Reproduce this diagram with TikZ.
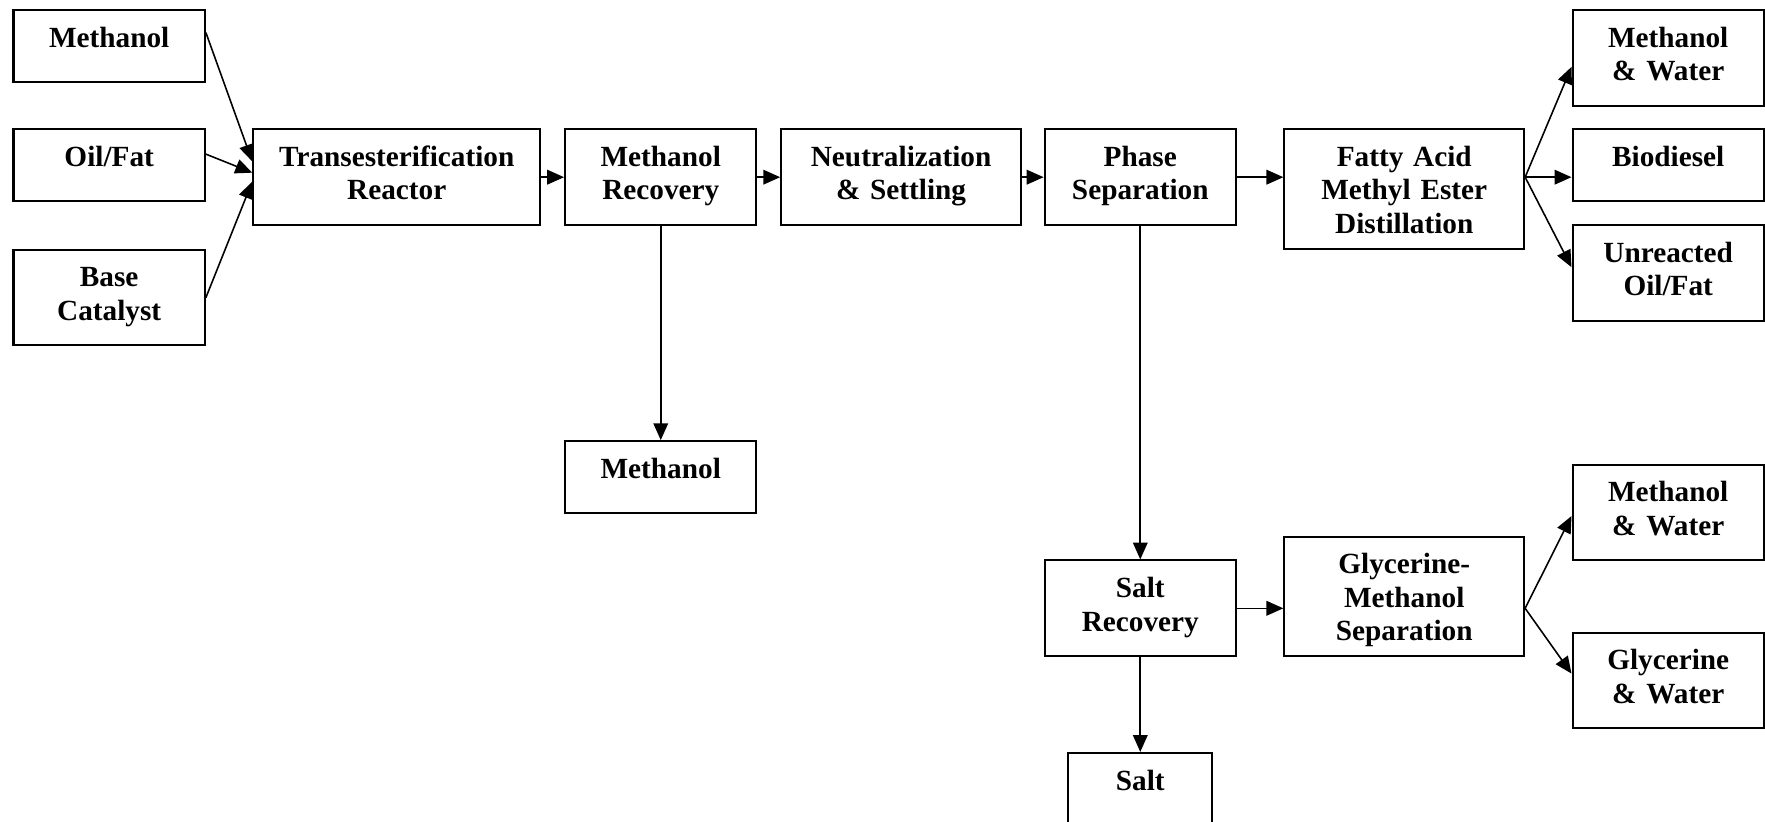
\documentclass[tikz,border=0pt]{standalone}
\usepackage{fontspec}
\setmainfont{Liberation Serif}
\usepackage{tikz}
\usetikzlibrary{arrows.meta}

\begin{document}
\begin{tikzpicture}[x=0.5pt, y=-0.5pt,
	box/.style={draw, line width=0.9pt, anchor=north, align=center, inner sep=0pt, text height=16.5pt, font=\fontsize{13}{14.85}\selectfont\bfseries},
	slim/.style={box, text width=85pt},
	broad/.style={box, text width=106.5pt},
	oneline/.style={text depth=15.5pt},
	twoline/.style={text depth=26pt},
	threeline/.style={text depth=36.5pt},
	flow/.style={line width=0.7pt, -{Triangle[length=7.5pt, width=6.5pt]}}]
	\useasboundingbox (0,0) rectangle (1568,730);
	\node[slim, oneline] (meth) at (97,8) {Methanol};
	\node[slim, oneline] (oil) at (97,114) {Oil/Fat};
	\node[slim, twoline] (cat) at (97,221) {Base\\Catalyst};
	\node[box, twoline, text width=127.5pt] (reactor) at (352.5,114) {Transesterification\\Reactor};
	\node[slim, twoline] (recovery) at (587,114) {Methanol\\Recovery};
	\node[broad, twoline] (neutral) at (800.5,114) {Neutralization\\\& Settling};
	\node[slim, twoline] (phase) at (1013,114) {Phase\\Separation};
	\node[broad, threeline] (fame) at (1247.5,114) {Fatty Acid\\Methyl Ester\\Distillation};
	\node[slim, twoline] (outmw) at (1482,8) {Methanol\\\& Water};
	\node[slim, oneline] (biodiesel) at (1482,114) {Biodiesel};
	\node[slim, twoline] (unreacted) at (1482,199) {Unreacted\\Oil/Fat};
	\node[slim, oneline] (methout) at (587,391) {Methanol};
	\node[slim, twoline] (saltrec) at (1013,497) {Salt\\Recovery};
	\node[broad, threeline] (glysep) at (1247.5,476) {Glycerine-\\Methanol\\Separation};
	\node[slim, twoline] (outmw2) at (1482,412) {Methanol\\\& Water};
	\node[slim, twoline] (outgw) at (1482,561) {Glycerine\\\& Water};
	\node[box, oneline, text width=64pt] (salt) at (1013,668) {Salt};
	\draw[flow] ([yshift=6pt]meth.east) -- ([yshift=7pt]reactor.west);
	\draw[flow] ([yshift=5pt]oil.east) -- ([yshift=2pt]reactor.west);
	\draw[flow] (cat.east) -- ([yshift=-2pt]reactor.west);
	\draw[flow] (reactor) -- (recovery);
	\draw[flow] (recovery) -- (neutral);
	\draw[flow] (neutral) -- (phase);
	\draw[flow] (phase) -- (phase -| fame.west);
	\draw[flow] (recovery) -- (methout);
	\draw[flow] (fame.east |- phase) -- ([yshift=-4pt]outmw.west);
	\draw[flow] (fame.east |- phase) -- (phase -| biodiesel.west);
	\draw[flow] (fame.east |- phase) -- ([yshift=2.5pt]unreacted.west);
	\draw[flow] (phase) -- (saltrec);
	\draw[flow] (saltrec) -- (saltrec -| glysep.west);
	\draw[flow] (saltrec) -- (salt);
	\draw[flow] (glysep.east |- saltrec) -- ([yshift=-1.5pt]outmw2.west);
	\draw[flow] (glysep.east |- saltrec) -- ([yshift=3pt]outgw.west);
\end{tikzpicture}
\end{document}
